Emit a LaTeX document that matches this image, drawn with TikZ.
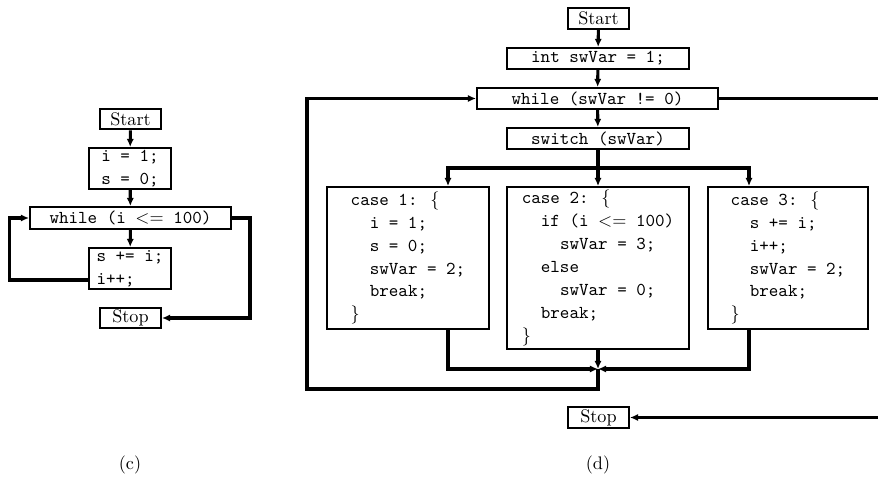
\documentclass[tikz,border=0pt]{standalone}
\usepackage{amsmath}
\usetikzlibrary{arrows.meta}

\newcommand{\codeind}{\hspace*{10.5pt}}

\tikzset{
  box/.style = {draw, line width=1.1pt, inner sep=0pt, align=left, font=\ttfamily\linespread{1.05}\selectfont},
  term/.style = {draw, line width=1.1pt, inner sep=0pt, minimum width=33.5pt, minimum height=11.5pt},
  flow/.style = {line width=1.7pt, -{Latex[length=4.5pt,width=4pt]}},
  conn/.style = {line width=1.7pt}
}

\begin{document}
\begin{tikzpicture}[x=0.55pt, y=-0.55pt]
\useasboundingbox (0,0) rectangle (878,477);

% (c)
\node[term] (cstart) at (130.5,119) {Start};
\node[box, minimum width=45pt, minimum height=22.5pt] (cinit) at (130,168.5) {i = 1;\\s = 0;};
\node[box, minimum width=110.5pt, minimum height=12pt] (cwhile) at (130.5,218) {while (i $<=$ 100)};
\node[box, minimum width=45pt, minimum height=22.5pt] (cbody) at (130,268.5) {s += i;\\i++;};
\node[term] (cstop) at (130.5,318) {Stop};

\draw[flow] (cstart) -- (cinit);
\draw[flow] (cinit) -- (cwhile);
\draw[flow] (cwhile) -- (cbody);
\draw[flow] ([yshift=5.5pt]cbody.south west) -- ++(-79,0) |- (cwhile.west);
\draw[flow] (cwhile.east) -- ++(18,0) |- (cstop.east);

\node (capc) at (130,465) {(c)};

% (d)
\node[term] (dstart) at (598.5,18.5) {Start};
\node[box, minimum width=100pt, minimum height=11.5pt] (dinit) at (598,58.5) {int swVar = 1;};
\node[box, minimum width=132.5pt, minimum height=11.5pt] (dwhile) at (597.5,98.5) {while (swVar != 0)};
\node[box, minimum width=100pt, minimum height=11.5pt] (dswitch) at (598,138.5) {switch (swVar)};

\node[box, minimum width=89pt, minimum height=78pt] (dcase1) at (408,258)
  {case 1: $\{$\\\codeind i = 1;\\\codeind s = 0;\\\codeind swVar = 2;\\\codeind break;\\$\}$};
\node[box, minimum width=100pt, minimum height=89pt] (dcase2) at (598,268)
  {case 2: $\{$\\\codeind if (i $<=$ 100)\\\codeind\codeind swVar = 3;\\\codeind else\\\codeind\codeind swVar = 0;\\\codeind break;\\$\}$};
\node[box, minimum width=88pt, minimum height=78pt] (dcase3) at (788,258)
  {case 3: $\{$\\\codeind s += i;\\\codeind i++;\\\codeind swVar = 2;\\\codeind break;\\$\}$};

\node[term] (dstop) at (598.5,417.5) {Stop};

\coordinate (split) at (598,168);
\coordinate (join) at (598,369);

\draw[flow] (dstart) -- (dinit);
\draw[flow] (dinit) -- (dwhile);
\draw[flow] (dwhile) -- (dswitch);
\draw[conn] (dswitch) -- (split);
\draw[flow] (split) -- (dcase2);
\draw[flow] (split) -- ++(-150,0) coordinate (s1) -- (s1 |- dcase1.north);
\draw[flow] (split) -- ++(151,0) coordinate (s3) -- (s3 |- dcase3.north);
\draw[flow] (s1 |- dcase1.south) |- (join);
\draw[flow] (s3 |- dcase3.south) |- (join);
\draw[flow] (dcase2) -- (join);
\draw[flow] (join) -- ++(0,20) -- ++(-291,0) |- (dwhile.west);
\draw[flow] (dwhile.east) -- ++(190,0) |- (dstop.east);

\node (capd) at (598,465) {(d)};
\end{tikzpicture}
\end{document}
